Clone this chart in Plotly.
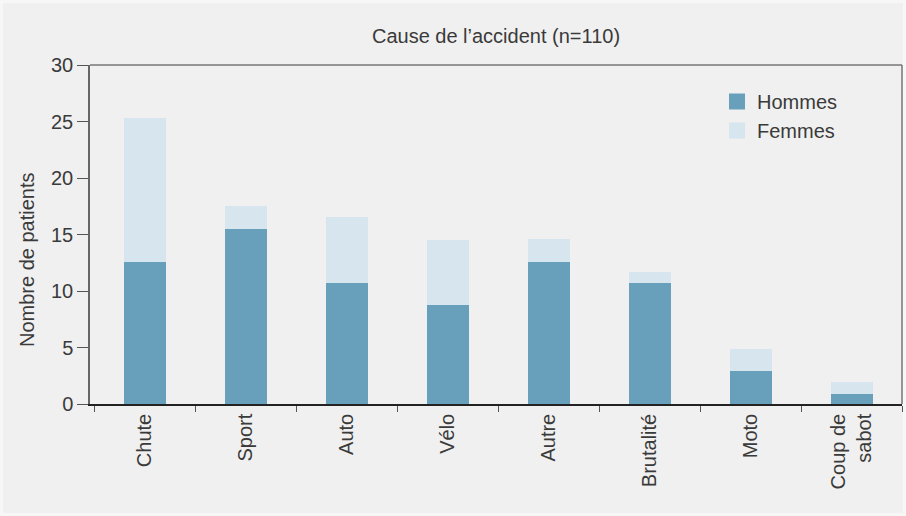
import plotly.graph_objects as go

categories = ["Chute", "Sport", "Auto", "Vélo", "Autre", "Brutalité", "Moto", "Coup de<br>sabot"]
hommes = [12.6, 15.5, 10.7, 8.8, 12.6, 10.7, 2.9, 0.9]
femmes = [12.7, 2.0, 5.85, 5.75, 2.0, 1.0, 2.0, 1.05]
y_ticks = [0, 5, 10, 15, 20, 25, 30]
series_names = ["Hommes", "Femmes"]
series_colors = ["#689fba", "#d7e5ef"]

FONT = "Liberation Sans, Arial, sans-serif"
TXT = "#3a3a3a"
FS = 20

fig = go.Figure()
for name, vals, col in zip(series_names, [hommes, femmes], series_colors):
    fig.add_trace(go.Bar(x=categories, y=vals, name=name, showlegend=False,
                         marker=dict(color=col, line=dict(width=0))))
# legend proxies (bigger square swatches)
for name, col in zip(series_names, series_colors):
    fig.add_trace(go.Scatter(x=[None], y=[None], mode="markers", name=name,
                             marker=dict(symbol="square", size=19, color=col, line=dict(width=0))))

W, H = 906, 516
L, R, T, B = 90, 4, 65, 112
pw, ph = W - L - R, H - T - B

fig.update_layout(
    width=W, height=H,
    barmode="stack", bargap=0.584,
    paper_bgcolor="#f7f7f7", plot_bgcolor="#f0f0f0",
    margin=dict(l=L, r=R, t=T, b=B, pad=0),
    font=dict(family=FONT, size=FS, color=TXT),
    title=dict(text="Cause de l’accident (n=110)", x=0.5, xref="paper", xanchor="center",
               y=1 - 36 / H, yanchor="middle", font=dict(size=FS, color=TXT)),
    legend=dict(x=(717 - L) / pw, y=(404 - 82) / ph, xanchor="left", yanchor="top",
                bgcolor="rgba(0,0,0,0)", font=dict(size=FS, color=TXT), traceorder="normal",
                itemsizing="trace"),
    xaxis=dict(type="category", range=[-0.54, 7.5], showgrid=False, showline=True,
               linecolor="#222", linewidth=1.5,
               mirror=False, ticks="outside", tickson="boundaries", ticklen=6, tickcolor="#555",
               tickangle=-90, tickfont=dict(size=FS, color=TXT)),
    yaxis=dict(range=[0, 30], tickvals=y_ticks, showgrid=False, zeroline=False, showline=True,
               linecolor="#666", linewidth=1.5, ticks="outside", ticklen=11, tickcolor="#555",
               tickfont=dict(size=FS, color=TXT)),
    shapes=[
        dict(type="rect", xref="paper", yref="paper", layer="below",
             x0=(3 - L) / pw, x1=(903 - L) / pw, y0=(404 - 513) / ph, y1=(404 - 3) / ph,
             fillcolor="#f0f0f0", line=dict(width=0)),
        dict(type="line", xref="paper", yref="paper", x0=0, x1=1, y0=1, y1=1,
             line=dict(color="#777", width=1.5)),
        dict(type="line", xref="paper", yref="paper", x0=1, x1=1, y0=0, y1=1,
             line=dict(color="#777", width=1.5)),
    ],
    annotations=[
        dict(text="Nombre de patients", xref="paper", yref="paper", x=(27 - L) / pw,
             y=(404 - 260) / ph, textangle=-90, showarrow=False, xanchor="center",
             yanchor="middle", font=dict(size=FS, color=TXT)),
    ],
)

fig.write_html("out.html", config={"displayModeBar": False},
               post_script="document.body.style.margin='0';document.body.style.padding='0';")
